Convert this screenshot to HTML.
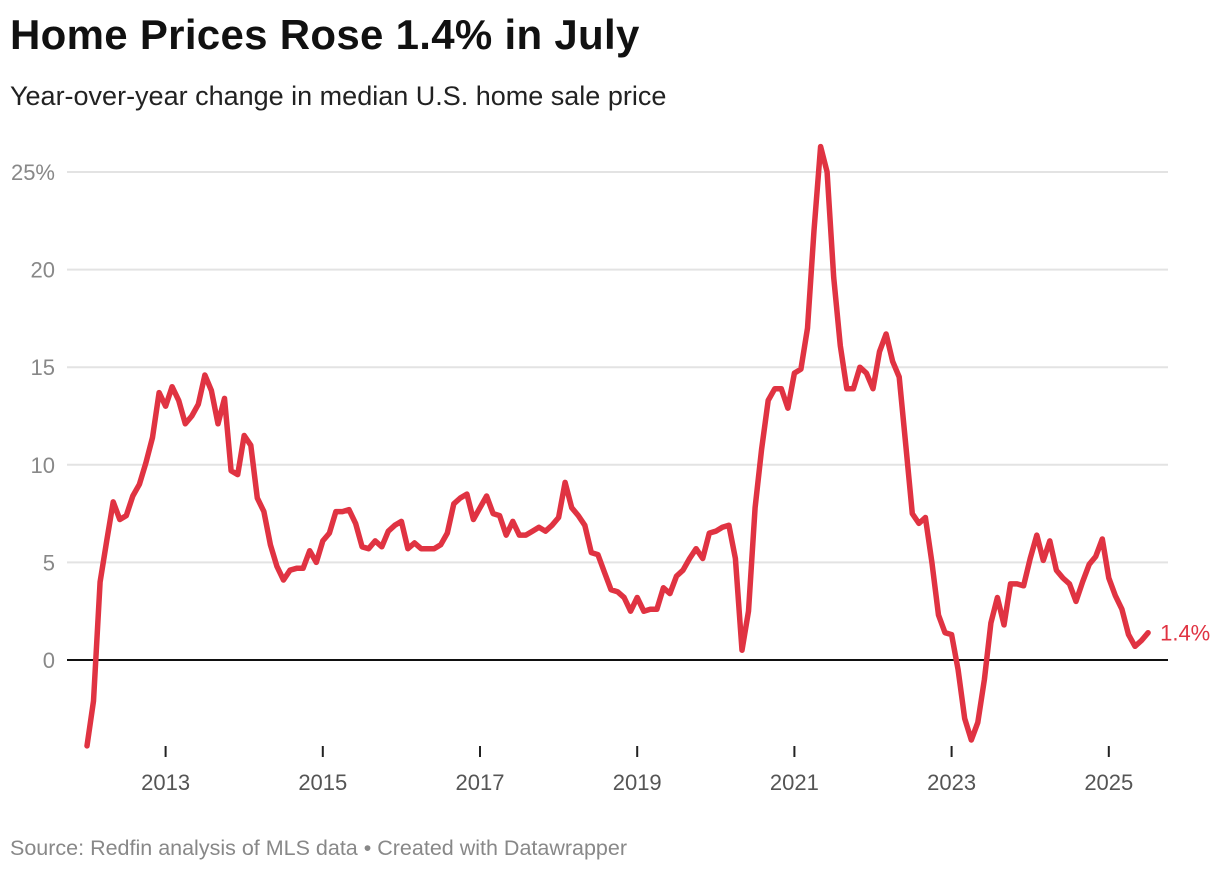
<!DOCTYPE html>
<html><head><meta charset="utf-8"><style>
body{margin:0;background:#fff;font-family:"Liberation Sans",sans-serif;}
#wrap{position:relative;width:1220px;height:872px;overflow:hidden;}
h1{position:absolute;left:10px;top:11px;margin:0;font-size:42px;font-weight:bold;color:#111;letter-spacing:0.3px}
.sub{position:absolute;left:10px;top:81px;font-size:27px;color:#222}
.src{position:absolute;left:10px;top:836px;font-size:21.5px;color:#888}
</style></head><body>
<div id="wrap">
<h1>Home Prices Rose 1.4% in July</h1>
<div class="sub">Year-over-year change in median U.S. home sale price</div>
<svg id="chart" width="1220" height="872" style="position:absolute;left:0;top:0"></svg>
<div class="src">Source: Redfin analysis of MLS data • Created with Datawrapper</div>
</div>
<script>
const startYear = 2012;
const values = [-4.4,-2.1,4.0,6.1,8.1,7.2,7.4,8.4,9.0,10.1,11.4,13.7,
13.0,14.0,13.3,12.1,12.5,13.1,14.6,13.8,12.1,13.4,9.7,9.5,
11.5,11.0,8.3,7.6,5.9,4.8,4.1,4.6,4.7,4.7,5.6,5.0,
6.1,6.5,7.6,7.6,7.7,7.0,5.8,5.7,6.1,5.8,6.6,6.9,
7.1,5.7,6.0,5.7,5.7,5.7,5.9,6.5,8.0,8.3,8.5,7.2,
7.8,8.4,7.5,7.4,6.4,7.1,6.4,6.4,6.6,6.8,6.6,6.9,
7.3,9.1,7.8,7.4,6.9,5.5,5.4,4.5,3.6,3.5,3.2,2.5,
3.2,2.5,2.6,2.6,3.7,3.4,4.3,4.6,5.2,5.7,5.2,6.5,
6.6,6.8,6.9,5.2,0.5,2.5,
7.8,10.8,13.3,13.9,13.9,12.9,14.7,14.9,17.0,22.0,26.3,
25.0,19.6,16.1,13.9,13.9,15.0,14.7,13.9,15.8,16.7,15.3,14.5,11.0,7.5,7.0,7.3,5.0,2.3,1.4,1.3,-0.5,-3.0,-4.1,-3.2,-1.0,1.9,3.2,1.8,3.9,3.9,3.8,5.2,6.4,5.1,6.1,4.6,4.2,3.9,3.0,4.0,4.9,5.3,6.2,4.2,3.3,2.6,1.3,0.7,1.0,1.4];
const yTicks = [0,5,10,15,20,25];
const yTickLabels = ["0","5","10","15","20","25%"];
const xTicks = [2013,2015,2017,2019,2021,2023,2025];
const lastLabel = "1.4%";

const NS="http://www.w3.org/2000/svg";
const svg=document.getElementById('chart');
const y=v=>660-v*19.52;
const xm=m=>87+m*(78.6/12);
const xy=yr=>xm((yr-startYear)*12);
function mk(t,a){const e=document.createElementNS(NS,t);for(const k in a)e.setAttribute(k,a[k]);svg.appendChild(e);return e;}
yTicks.forEach((t,i)=>{
  if(t!==0){const l=mk('line',{x1:67,x2:1168,y1:y(t),y2:y(t),stroke:'#e3e3e3','stroke-width':2});
  
  }
  const tx=mk('text',{x:55,y:y(t)+8,'text-anchor':'end','font-size':22,fill:'#888','font-family':'Liberation Sans, sans-serif'});
  tx.textContent=yTickLabels[i];
  
  
});
xTicks.forEach(t=>{
  const l=mk('line',{x1:xy(t),x2:xy(t),y1:746,y2:757,stroke:'#222','stroke-width':2});
  
  
  const tx=mk('text',{x:xy(t),y:790,'text-anchor':'middle','font-size':22,fill:'#555','font-family':'Liberation Sans, sans-serif'});
  tx.textContent=t;
  
  
});
const z=mk('line',{x1:67,x2:1168,y1:y(0),y2:y(0),stroke:'#111','stroke-width':2});


const p=mk('polyline',{points:values.map((v,i)=>xm(i).toFixed(1)+','+y(v).toFixed(1)).join(' '),fill:'none',stroke:'#e03342','stroke-width':5.5,'stroke-linejoin':'round','stroke-linecap':'round'});


const li=values.length-1;
const lb=mk('text',{x:xm(li)+12,y:y(values[li])+8,'font-size':22,fill:'#e03342','font-family':'Liberation Sans, sans-serif'});
lb.textContent=lastLabel;


</script>
</body></html>
